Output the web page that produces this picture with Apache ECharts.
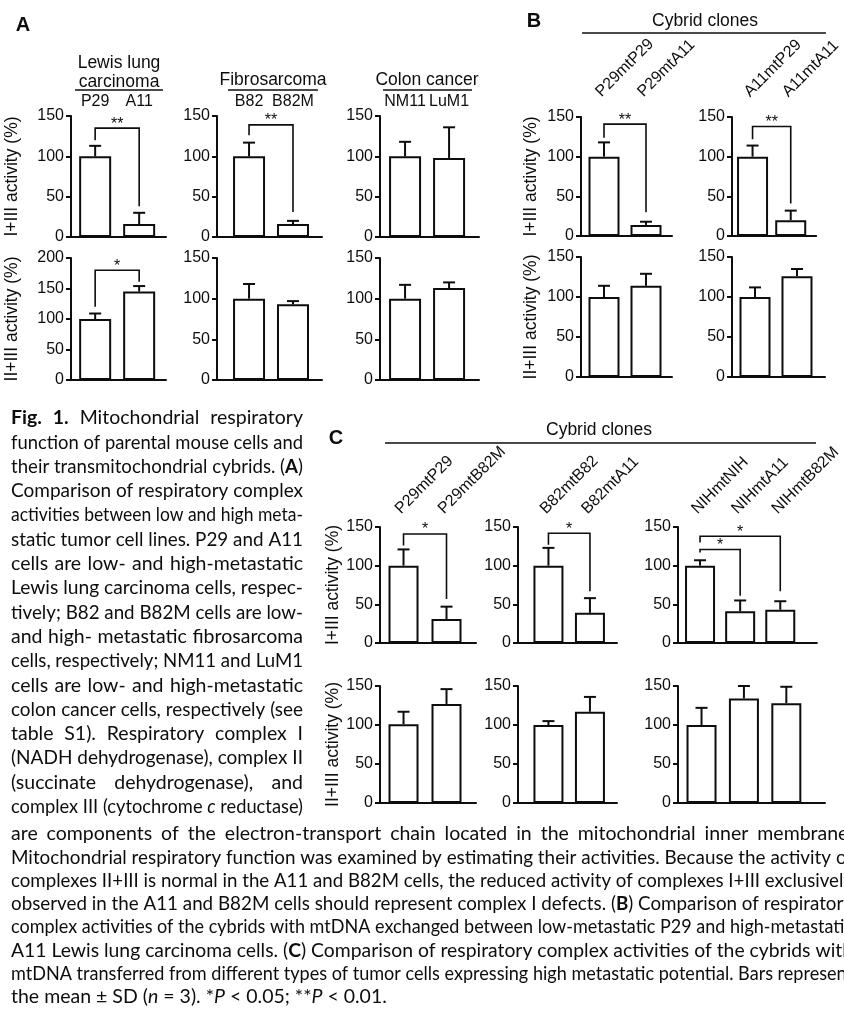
<!DOCTYPE html>
<html>
<head>
<meta charset="utf-8">
<script src="https://cdn.jsdelivr.net/npm/echarts@6.0.0/dist/echarts.min.js"></script>
<style>
html, body { margin: 0; padding: 0; background: #fff; }
#fig { width: 844px; height: 1009px; }
</style>
</head>
<body>
<div id="fig"></div>
<script>
// ---------- data ----------
var yTicks = [0, 50, 100, 150];
var yTicksWide = [0, 50, 100, 150, 200];
var yNames = ['I+III activity (%)', 'II+III activity (%)'];

// panel A: parental cell lines
var namesA = [['P29', 'A11'], ['B82', 'B82M'], ['NM11', 'LuM1']];
var groupsA = [['Lewis lung', 'carcinoma'], ['Fibrosarcoma'], ['Colon cancer']];
var aI3 = [[100, 16], [100, 16], [100, 98]];
var aI3Err = [[13, 14], [17, 4], [18, 38]];
var aII3 = [[100, 145], [100, 93], [100, 113]];
var aII3Err = [[9, 9], [18, 4], [17, 7]];
// brackets: [from, to, left leg end, top, right leg end, mark]
var aI3Sig = [[[0, 1, 120, 135, 38, '**']], [[0, 1, 126, 139, 31, '**']], []];
var aII3Sig = [[[0, 1, 120, 180, 161, '*']], [], []];

// panel B: cybrids P29 / A11
var namesB = [['P29mtP29', 'P29mtA11'], ['A11mtP29', 'A11mtA11']];
var bI3 = [[100, 14], [100, 20]];
var bI3Err = [[18, 4], [14, 12]];
var bII3 = [[100, 114], [100, 126]];
var bII3Err = [[14, 15], [12, 9]];
var bI3Sig = [[[0, 1, 124, 141, 30, '**']], [[0, 1, 122, 138, 41, '**']]];
var bII3Sig = [[], []];

// panel C: cybrids with mtDNA from other tumours
var namesC = [['P29mtP29', 'P29mtB82M'], ['B82mtB82', 'B82mtA11'], ['NIHmtNIH', 'NIHmtA11', 'NIHmtB82M']];
var cI3 = [[100, 31], [100, 39], [100, 41, 43]];
var cI3Err = [[21, 16], [23, 19], [7, 14, 11]];
var cII3 = [[101, 127], [100, 117], [100, 134, 128]];
var cII3Err = [[16, 19], [5, 19], [22, 16, 21]];
var cI3Sig = [[[0, 1, 126, 141, 57, '*']], [[0, 1, 127, 142, 67, '*']],
              [[0, 1, 117, 121, 61, '*'], [0, 2, 130, 138, 67, '*']]];
var cII3Sig = [[], [], []];

var caption = [
  '{b|Fig.} {b|1.} Mitochondrial respiratory',
  'function of parental mouse cells and',
  'their transmitochondrial cybrids. ({b|A})',
  'Comparison of respiratory complex',
  'activities between low and high meta-',
  'static tumor cell lines. P29 and A11',
  'cells are low- and high-metastatic',
  'Lewis lung carcinoma cells, respec-',
  'tively; B82 and B82M cells are low-',
  'and high- metastatic fibrosarcoma',
  'cells, respectively; NM11 and LuM1',
  'cells are low- and high-metastatic',
  'colon cancer cells, respectively (see',
  'table S1). Respiratory complex I',
  '(NADH dehydrogenase), complex II',
  '(succinate dehydrogenase), and',
  'complex III (cytochrome {i|c} reductase)'
];
var captionWide = [
  'are components of the electron-transport chain located in the mitochondrial inner membrane.',
  'Mitochondrial respiratory function was examined by estimating their activities. Because the activity of',
  'complexes II+III is normal in the A11 and B82M cells, the reduced activity of complexes I+III exclusively',
  'observed in the A11 and B82M cells should represent complex I defects. ({b|B}) Comparison of respiratory',
  'complex activities of the cybrids with mtDNA exchanged between low-metastatic P29 and high-metastatic',
  'A11 Lewis lung carcinoma cells. ({b|C}) Comparison of respiratory complex activities of the cybrids with',
  'mtDNA transferred from different types of tumor cells expressing high metastatic potential. Bars represent',
  'the mean \u00b1 SD ({i|n} = 3). *{i|P} < 0.05; **{i|P} < 0.01.'
];

// ---------- layout ----------
var FONT = '"Liberation Sans", Arial, Helvetica, sans-serif';
var CAP_FONT = 'Lato, "Open Sans", sans-serif';
var CAP_SIZE = 19.5;
var INK = '#0d0d0d';

var layA = {
  cols: [
    { axisX: 71, end: 166, xmin: -0.64, xmax: 1.61 },
    { axisX: 217, end: 322, xmin: -0.82, xmax: 1.66 },
    { axisX: 380, end: 479, xmin: -0.66, xmax: 1.68 }
  ],
  rows: [{ top: 116, bottom: 237 }, { top: 258, bottom: 380 }],
  barW: 32, nameGap: 50, labelMargin: 6, rotate: 0
};
var layB = {
  cols: [
    { axisX: 581, end: 672, xmin: -0.643, xmax: 1.619 },
    { axisX: 732, end: 825, xmin: -0.643, xmax: 1.667 }
  ],
  rows: [{ top: 117, bottom: 236 }, { top: 257, bottom: 377 }],
  barW: 31, nameGap: 41, labelMargin: 17, rotate: 45
};
var layC = {
  cols: [
    { axisX: 380, end: 476, xmin: -0.64, xmax: 1.686 },
    { axisX: 518, end: 617, xmin: -0.83, xmax: 1.652 },
    { axisX: 678, end: 825, xmin: -0.649, xmax: 2.912 }
  ],
  rows: [{ top: 527, bottom: 643 }, { top: 686, bottom: 803 }],
  barW: 30, nameGap: 34, labelMargin: 10, rotate: 45
};

var option = {
  animation: false,
  backgroundColor: '#fff',
  grid: [], xAxis: [], yAxis: [], series: [], graphic: []
};

function addChart(lay, col, row, vals, errs, sig, ticks, names, yName) {
  var gi = option.grid.length;
  var gx0 = col.axisX - 4;
  option.grid.push({ left: gx0, top: row.top, width: col.end - gx0, height: row.bottom - row.top });

  var xi = option.xAxis.length;
  option.xAxis.push({
    type: 'value', gridIndex: gi, min: col.xmin, max: col.xmax,
    axisLine: { onZero: false, lineStyle: { color: INK, width: 2 } },
    axisTick: { show: false }, axisLabel: { show: false }, splitLine: { show: false }
  });
  if (names) {
    option.xAxis.push({
      type: 'value', gridIndex: gi, position: 'top', min: col.xmin, max: col.xmax,
      axisLine: { show: false }, axisTick: { show: false }, splitLine: { show: false },
      axisLabel: {
        customValues: names.map(function (n, i) { return i; }),
        formatter: function (v) { return Number.isInteger(v) && names[v] ? names[v] : ''; },
        rotate: lay.rotate,
        align: lay.rotate ? 'left' : 'center',
        verticalAlign: 'bottom',
        margin: lay.labelMargin,
        color: INK, fontSize: 16, fontFamily: FONT
      }
    });
  }

  var yi = option.yAxis.length;
  option.yAxis.push({
    type: 'value', gridIndex: gi,
    min: ticks[0], max: ticks[ticks.length - 1], interval: ticks[1] - ticks[0],
    offset: -4,
    axisLine: { show: true, onZero: false, lineStyle: { color: INK, width: 2 } },
    axisTick: { show: true, length: 5, lineStyle: { color: INK, width: 2 } },
    axisLabel: { color: INK, fontSize: 16, fontFamily: FONT, margin: 7 },
    splitLine: { show: false },
    name: yName || '', nameLocation: 'middle', nameGap: lay.nameGap, nameRotate: 90,
    nameTextStyle: { color: INK, fontSize: 17.5, fontFamily: FONT }
  });

  option.series.push({
    type: 'bar', xAxisIndex: xi, yAxisIndex: yi, barWidth: lay.barW, silent: true,
    data: vals.map(function (v, i) { return [i, v]; }),
    itemStyle: { color: '#fff', borderColor: INK, borderWidth: 2 }
  });

  // error bars (upper whisker only, like the original)
  option.series.push({
    type: 'custom', xAxisIndex: xi, yAxisIndex: yi, silent: true, z: 3,
    data: vals.map(function (v, i) { return [i, v, errs[i]]; }),
    renderItem: function (p, api) {
      var a = api.coord([api.value(0), api.value(1)]);
      var b = api.coord([api.value(0), api.value(1) + api.value(2)]);
      var st = { stroke: INK, lineWidth: 2 };
      return {
        type: 'group', children: [
          { type: 'line', shape: { x1: a[0], y1: a[1], x2: b[0], y2: b[1] }, style: st },
          { type: 'line', shape: { x1: b[0] - 6, y1: b[1], x2: b[0] + 6, y2: b[1] }, style: st }
        ]
      };
    }
  });

  // significance brackets
  if (sig.length) {
    option.series.push({
      type: 'custom', xAxisIndex: xi, yAxisIndex: yi, silent: true, z: 4,
      data: sig.map(function (s) { return s.slice(0, 5); }),
      renderItem: function (p, api) {
        var x0 = api.value(0), x1 = api.value(1), top = api.value(3);
        var pts = [api.coord([x0, api.value(2)]), api.coord([x0, top]),
                   api.coord([x1, top]), api.coord([x1, api.value(4)])];
        var mid = api.coord([(x0 + x1) / 2, top]);
        return {
          type: 'group', children: [
            { type: 'polyline', shape: { points: pts }, style: { stroke: INK, lineWidth: 1.6, fill: null } },
            { type: 'text', x: mid[0], y: mid[1] - 4,
              style: { text: sig[p.dataIndex][5], fill: INK, fontSize: 16, fontFamily: FONT,
                       align: 'center', verticalAlign: 'middle' } }
          ]
        };
      }
    });
  }
}

function addPanel(lay, names, rowVals, rowErrs, rowSigs, rowTicks) {
  lay.cols.forEach(function (col, c) {
    lay.rows.forEach(function (row, r) {
      addChart(lay, col, row, rowVals[r][c], rowErrs[r][c], rowSigs[r][c], rowTicks[r][c],
               r === 0 ? names[c] : null, c === 0 ? yNames[r] : '');
    });
  });
}

addPanel(layA, namesA, [aI3, aII3], [aI3Err, aII3Err], [aI3Sig, aII3Sig],
         [[yTicks, yTicks, yTicks], [yTicksWide, yTicks, yTicks]]);
addPanel(layB, namesB, [bI3, bII3], [bI3Err, bII3Err], [bI3Sig, bII3Sig],
         [[yTicks, yTicks], [yTicks, yTicks]]);
addPanel(layC, namesC, [cI3, cII3], [cI3Err, cII3Err], [cI3Sig, cII3Sig],
         [[yTicks, yTicks, yTicks], [yTicks, yTicks, yTicks]]);

// ---------- headings ----------
function txt(x, y, s, size, extra) {
  var st = { text: s, fill: INK, fontSize: size, fontFamily: FONT,
             align: 'center', verticalAlign: 'middle' };
  for (var k in extra) st[k] = extra[k];
  option.graphic.push({ type: 'text', x: x, y: y, silent: true, style: st });
}
function rule(x1, x2, y) {
  option.graphic.push({ type: 'line', silent: true,
    shape: { x1: x1, y1: y, x2: x2, y2: y }, style: { stroke: INK, lineWidth: 1.6 } });
}

txt(23, 25, 'A', 20, { fontWeight: 'bold' });
txt(534, 21, 'B', 20, { fontWeight: 'bold' });
txt(336, 438, 'C', 20, { fontWeight: 'bold' });

var groupPos = [{ x: 119, y: [63, 82], line: [75, 163] },
                { x: 273, y: [80], line: [228, 318] },
                { x: 427, y: [80], line: [383, 472] }];
groupsA.forEach(function (g, i) {
  g.forEach(function (s, j) { txt(groupPos[i].x, groupPos[i].y[j], s, 17.5); });
  rule(groupPos[i].line[0], groupPos[i].line[1], 90);
});
txt(705, 21, 'Cybrid clones', 17.5);
rule(582, 826, 33);
txt(599, 430, 'Cybrid clones', 17.5);
rule(385, 816, 443);

// ---------- caption ----------
var mctx = document.createElement('canvas').getContext('2d');
function segFont(s) {
  return (s.i ? 'italic ' : '') + (s.b ? 'bold ' : '') + CAP_SIZE + 'px ' + CAP_FONT;
}
function parseWord(w) {
  var segs = [], re = /\{([bi])\|([^}]*)\}|([^{]+)/g, m;
  while ((m = re.exec(w))) {
    segs.push(m[3] != null ? { t: m[3] } : { t: m[2], b: m[1] === 'b', i: m[1] === 'i' });
  }
  return segs;
}
function captionLine(str, x, y, width, justify) {
  var words = str.split(' ').map(parseWord);
  mctx.font = segFont({});
  var space = mctx.measureText(' ').width;
  var sum = 0;
  words.forEach(function (w) {
    w.width = 0;
    w.forEach(function (s) { mctx.font = segFont(s); s.w = mctx.measureText(s.t).width; w.width += s.w; });
    sum += w.width;
  });
  var natural = sum + space * (words.length - 1);
  var k = 1, gap = space;
  if (natural > width) { k = width / natural; gap = space * k; }
  else if (justify && words.length > 1) { gap = (width - sum) / (words.length - 1); }
  var cx = x;
  words.forEach(function (w) {
    w.forEach(function (s) {
      option.graphic.push({
        type: 'text', x: cx, y: y, scaleX: k, silent: true,
        style: { text: s.t, fill: INK, font: segFont(s), align: 'left', verticalAlign: 'middle' }
      });
      cx += s.w * k;
    });
    cx += gap;
  });
}
caption.forEach(function (line, i) { captionLine(line, 11, 418 + 24.3 * i, 292, true); });
captionWide.forEach(function (line, i) {
  captionLine(line, 11, 834 + 23.3 * i, 842, i < captionWide.length - 1);
});

var chart = echarts.init(document.getElementById('fig'), null, { renderer: 'canvas' });
chart.setOption(option);
</script>
</body>
</html>
